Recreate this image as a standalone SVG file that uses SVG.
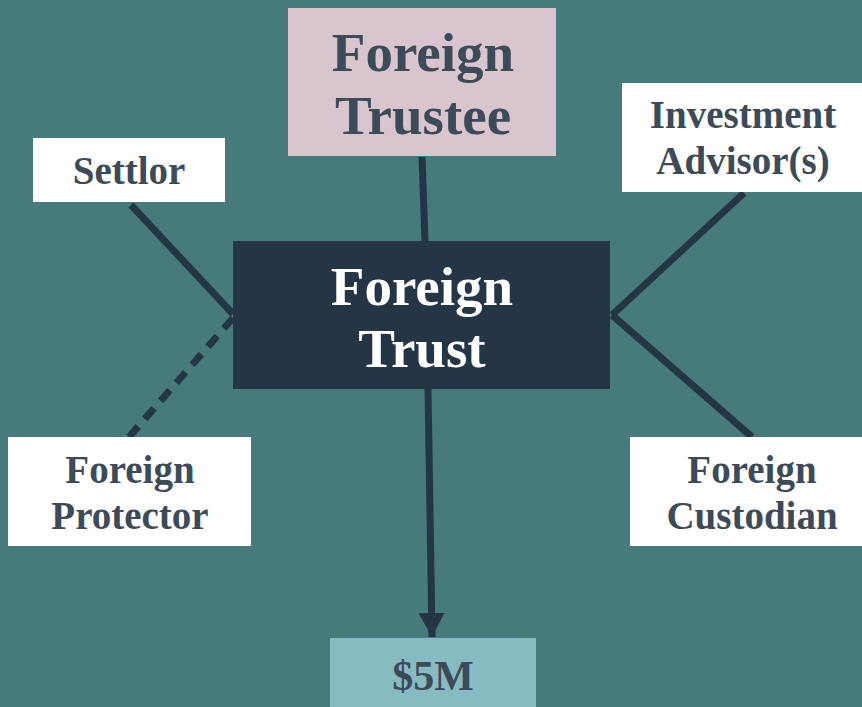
<svg xmlns="http://www.w3.org/2000/svg" width="862" height="707" viewBox="0 0 862 707">
<style>
.t{font-family:"Liberation Serif","DejaVu Serif",serif;font-weight:bold;text-anchor:middle;fill:#3d4b58}
.L{font-size:55px}
.S{font-size:39px}
.w{fill:#ffffff}
.c{stroke:#243646;stroke-width:7;fill:none}
</style>
<defs>
<marker id="ah" markerUnits="userSpaceOnUse" markerWidth="26" markerHeight="26" refX="24" refY="13" orient="auto">
<path d="M0,0 L24,13 L0,26 Z" fill="#243646"/>
</marker>
</defs>
<rect width="862" height="707" fill="#477a7b"/>
<g id="connectors">
<line class="c" x1="131" y1="205" x2="233" y2="314"/>
<line class="c" x1="233" y1="318" x2="129" y2="437" stroke-width="4.5" stroke-dasharray="14,10"/>
<line class="c" x1="422" y1="157" x2="425" y2="241"/>
<line class="c" x1="612" y1="315" x2="744" y2="193"/>
<line class="c" x1="612" y1="315" x2="752" y2="437"/>
<line class="c" x1="428" y1="389" x2="432" y2="637" marker-end="url(#ah)"/>
</g>
<g id="trustee">
<rect x="288" y="8" width="268" height="148" fill="#d8c5cd"/>
<text class="t L" x="423" y="71">Foreign</text>
<text class="t L" x="423" y="134">Trustee</text>
</g>
<g id="settlor">
<rect x="33" y="138" width="192" height="64" class="w"/>
<text class="t S" x="129" y="184">Settlor</text>
</g>
<g id="advisor">
<rect x="622" y="83" width="240" height="109" class="w"/>
<text class="t S" x="743" y="128">Investment</text>
<text class="t S" x="743" y="174">Advisor(s)</text>
</g>
<g id="trust">
<rect x="233" y="241" width="377" height="148" fill="#243646"/>
<text class="t L" x="422" y="305" style="fill:#ffffff">Foreign</text>
<text class="t L" x="422" y="367" style="fill:#ffffff">Trust</text>
</g>
<g id="protector">
<rect x="8" y="437" width="243" height="109" class="w"/>
<text class="t S" x="130" y="483">Foreign</text>
<text class="t S" x="130" y="529">Protector</text>
</g>
<g id="custodian">
<rect x="630" y="437" width="232" height="109" class="w"/>
<text class="t S" x="752" y="483">Foreign</text>
<text class="t S" x="752" y="529">Custodian</text>
</g>
<g id="amount">
<rect x="330" y="638" width="206" height="69" fill="#86bbc2"/>
<text class="t" x="433" y="690" font-size="42">$5M</text>
</g>
</svg>
